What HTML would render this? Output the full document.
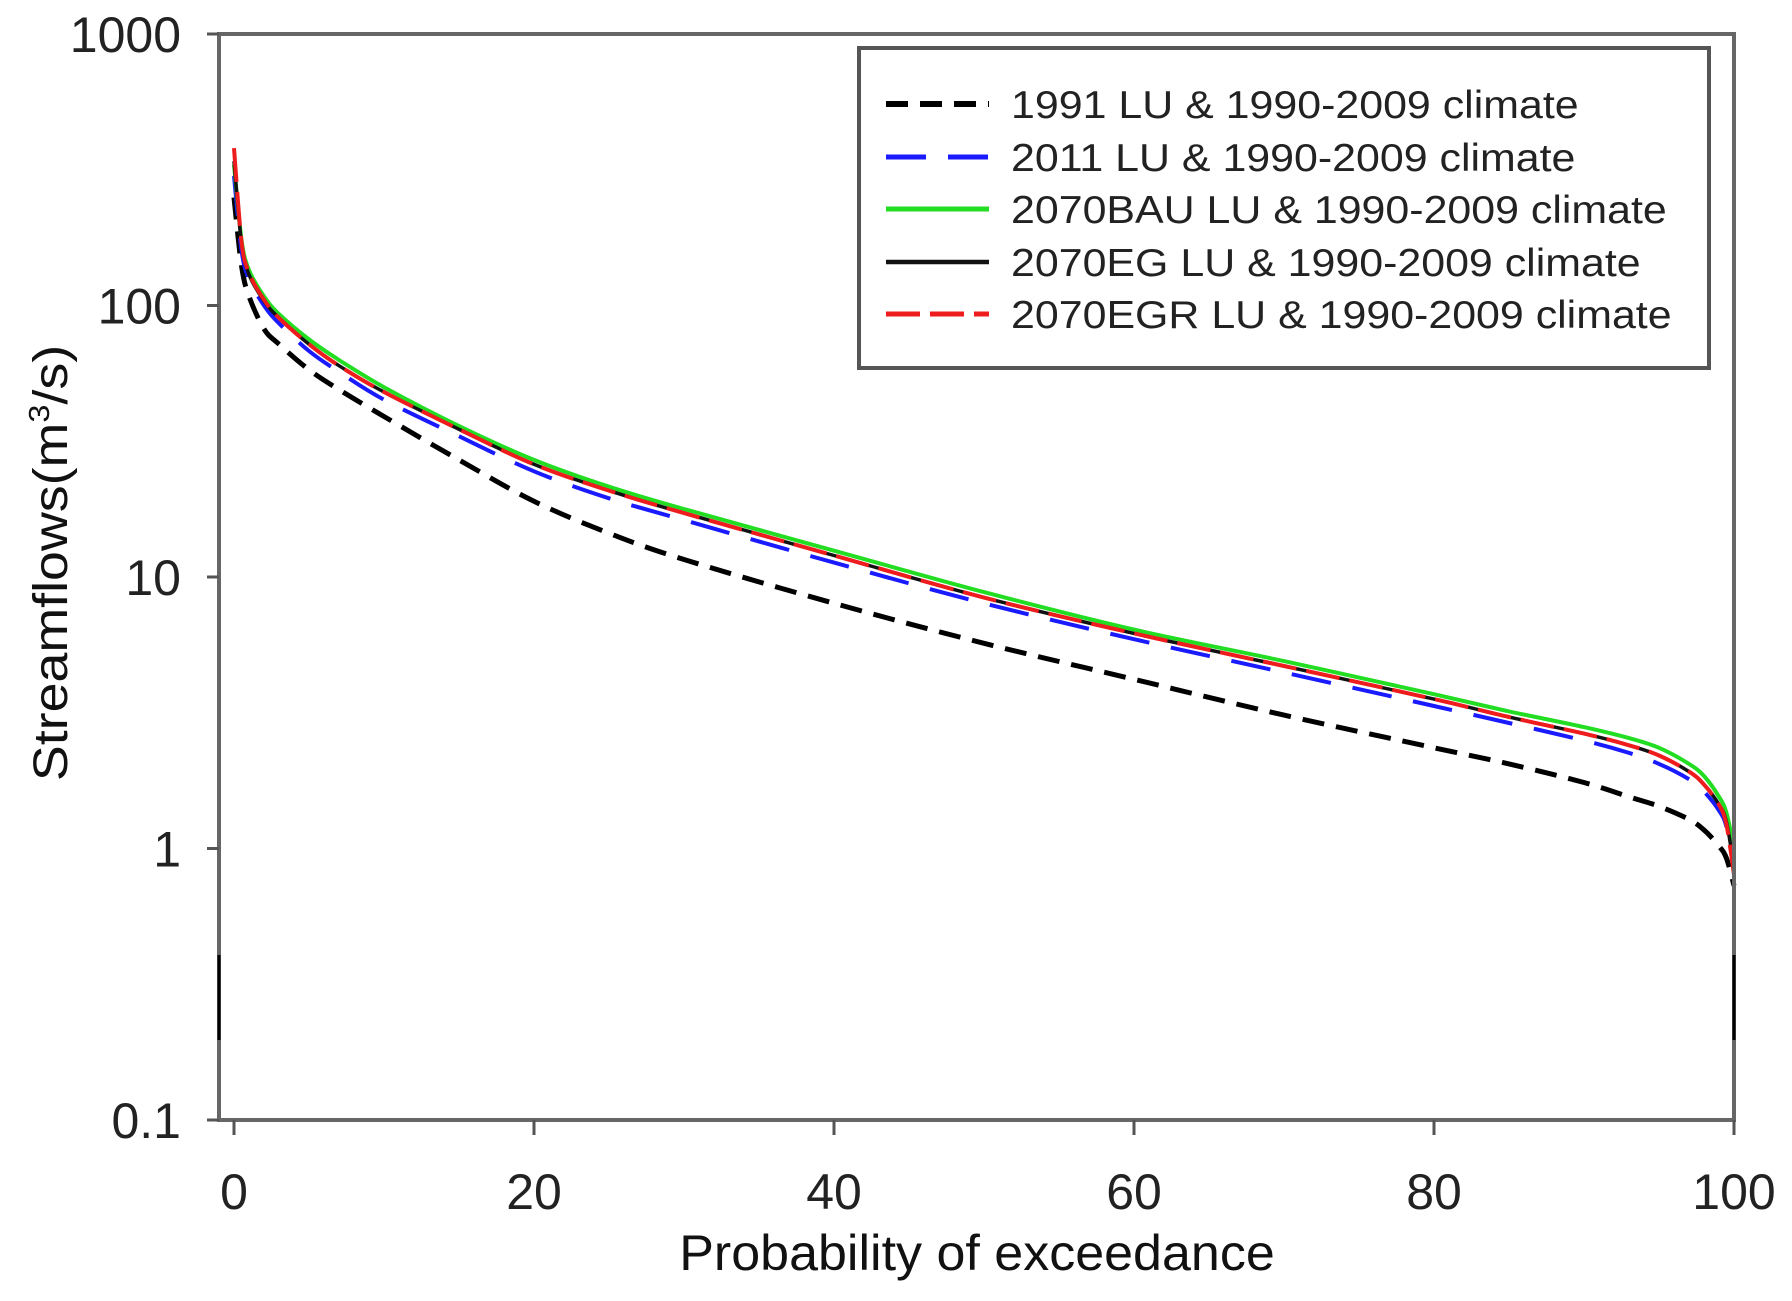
<!DOCTYPE html>
<html><head><meta charset="utf-8"><style>
html,body{margin:0;padding:0;background:#fff;}
svg{display:block;font-family:"Liberation Sans",Arial,sans-serif;}
</style></head><body>
<svg id="chart" width="1792" height="1301" viewBox="0 0 1792 1301">
<g id="series"></g>
<g id="axes"></g>
<g id="legend"></g>
</svg>
<script>
const probs = [0, 0.5, 1, 2, 3, 5, 7, 10, 15, 20, 25, 30, 40, 50, 60, 70, 80, 85, 90, 93, 95, 97, 98, 99, 99.5, 100];
const lu1991 = [250, 140, 108, 82, 72, 58, 49, 39, 27, 19, 14.5, 11.6, 8.0, 5.7, 4.2, 3.1, 2.35, 2.05, 1.75, 1.55, 1.43, 1.28, 1.17, 1.02, 0.92, 0.73];
const lu2011 = [300, 160, 125, 100, 86, 68, 57, 45, 33, 24.5, 19.5, 16.2, 11.3, 8.0, 5.9, 4.45, 3.35, 2.9, 2.5, 2.25, 2.05, 1.8, 1.62, 1.38, 1.2, 0.85];
const bau2070 = [330, 175, 135, 108, 93, 75, 63, 50, 36, 27, 21.5, 17.8, 12.5, 8.8, 6.4, 4.9, 3.7, 3.2, 2.8, 2.55, 2.35, 2.05, 1.85, 1.55, 1.35, 1.0];
const eg2070 = [340, 170, 130, 104, 90, 72, 60, 48, 35, 26, 20.8, 17.2, 12.0, 8.4, 6.2, 4.7, 3.55, 3.05, 2.65, 2.4, 2.2, 1.92, 1.72, 1.45, 1.25, 0.85];
const egr2070 = [380, 172, 132, 105, 90, 72, 60, 48, 35, 26, 20.8, 17.2, 12.0, 8.4, 6.2, 4.7, 3.55, 3.05, 2.65, 2.4, 2.2, 1.92, 1.72, 1.45, 1.22, 0.8];
const yTicks = [0.1, 1, 10, 100, 1000];
const yTickLabels = ["0.1", "1", "10", "100", "1000"];
const xTicks = [0, 20, 40, 60, 80, 100];
const seriesNames = ["1991 LU & 1990-2009 climate","2011 LU & 1990-2009 climate","2070BAU LU & 1990-2009 climate","2070EG LU & 1990-2009 climate","2070EGR LU & 1990-2009 climate"];

const NS="http://www.w3.org/2000/svg";
function xs(p){return 234+15*p;}
function ys(v){return 1120-(Math.log10(v)+1)*271.5;}
function mk(tag,attrs,parent){const e=document.createElementNS(NS,tag);for(const k in attrs)e.setAttribute(k,attrs[k]);parent.appendChild(e);return e;}
function stretch(el,f){const w=el.getComputedTextLength();el.setAttribute('textLength',(w*f).toFixed(1));el.setAttribute('lengthAdjust','spacingAndGlyphs');}
function smoothPath(xsArr,ysArr){
 let d='M'+xsArr[0].toFixed(1)+','+ysArr[0].toFixed(1);
 for(let i=0;i<xsArr.length-1;i++){
  const x0=xsArr[Math.max(i-1,0)],y0=ysArr[Math.max(i-1,0)];
  const x1=xsArr[i],y1=ysArr[i],x2=xsArr[i+1],y2=ysArr[i+1];
  const x3=xsArr[Math.min(i+2,xsArr.length-1)],y3=ysArr[Math.min(i+2,xsArr.length-1)];
  const c1x=x1+(x2-x0)/6,c1y=y1+(y2-y0)/6,c2x=x2-(x3-x1)/6,c2y=y2-(y3-y1)/6;
  d+=' C'+c1x.toFixed(1)+','+c1y.toFixed(1)+' '+c2x.toFixed(1)+','+c2y.toFixed(1)+' '+x2.toFixed(1)+','+y2.toFixed(1);
 }
 return d;
}

const styles=[
 {data:lu1991,color:"#000",dash:"22 12",w:5,key:"series-1991"},
 {data:lu2011,color:"#1a1aff",dash:"40 22",w:4,key:"series-2011"},
 {data:bau2070,color:"#22dd22",dash:"",w:4,key:"series-2070bau"},
 {data:eg2070,color:"#111",dash:"",w:3.5,key:"series-2070eg"},
 {data:egr2070,color:"#ee1c1c",dash:"34 10",w:4,key:"series-2070egr"}
];
const sg=document.getElementById('series');
styles.forEach(s=>{
 const d=smoothPath(probs.map(xs),s.data.map(ys));
 const el=mk('path',{d:d,fill:'none',stroke:s.color,'stroke-width':s.w,'stroke-dasharray':s.dash,'stroke-linejoin':'round'},sg);
 
 
});

const ag=document.getElementById('axes');
const frame=mk('rect',{x:219,y:34,width:1515,height:1086,fill:'none',stroke:'#666','stroke-width':4},ag);


[219,1734].forEach(x=>{const seg=mk('line',{x1:x,y1:955,x2:x,y2:1040,stroke:'#000','stroke-width':3},ag);
 
 });
yTicks.forEach((v,i)=>{
 const y=ys(v);
 const t=mk('line',{x1:207,y1:y,x2:219,y2:y,stroke:'#555','stroke-width':3},ag);
 
 
 const tx=mk('text',{x:181,y:y+18,'text-anchor':'end','font-size':50,fill:'#222'},ag);
 tx.textContent=yTickLabels[i];
 
 
});
xTicks.forEach(v=>{
 const x=xs(v);
 const t=mk('line',{x1:x,y1:1120,x2:x,y2:1135,stroke:'#555','stroke-width':3},ag);
 
 
 const tx=mk('text',{x:x,y:1209,'text-anchor':'middle','font-size':50,fill:'#222'},ag);
 tx.textContent=String(v);
 
 
});
const xl=mk('text',{x:977,y:1270,'text-anchor':'middle','font-size':50,fill:'#111'},ag);
xl.textContent='Probability of exceedance';


stretch(xl,1.04);
const yl=mk('text',{x:0,y:0,'text-anchor':'middle','font-size':48,fill:'#111',transform:'translate(67,563) rotate(-90)'},ag);
yl.innerHTML='Streamflows(m<tspan dy="-18" font-size="29">3</tspan><tspan dy="18">/s)</tspan>';


stretch(yl,1.12);

const lg=document.getElementById('legend');
const box=mk('rect',{x:859,y:48,width:850,height:320,fill:'#fff',stroke:'#555','stroke-width':4},lg);


const rowY=[104,157,209,262,314];
styles.forEach((s,i)=>{
 const ln=mk('line',{x1:886,y1:rowY[i],x2:989,y2:rowY[i],stroke:s.color,'stroke-width':s.w+1,'stroke-dasharray':s.dash},lg);
 
 
 const tx=mk('text',{x:1011,y:rowY[i]+14,'font-size':39,fill:'#222'},lg);
 tx.textContent=seriesNames[i];
 
 
 stretch(tx,1.1);
});
</script>
</body></html>
